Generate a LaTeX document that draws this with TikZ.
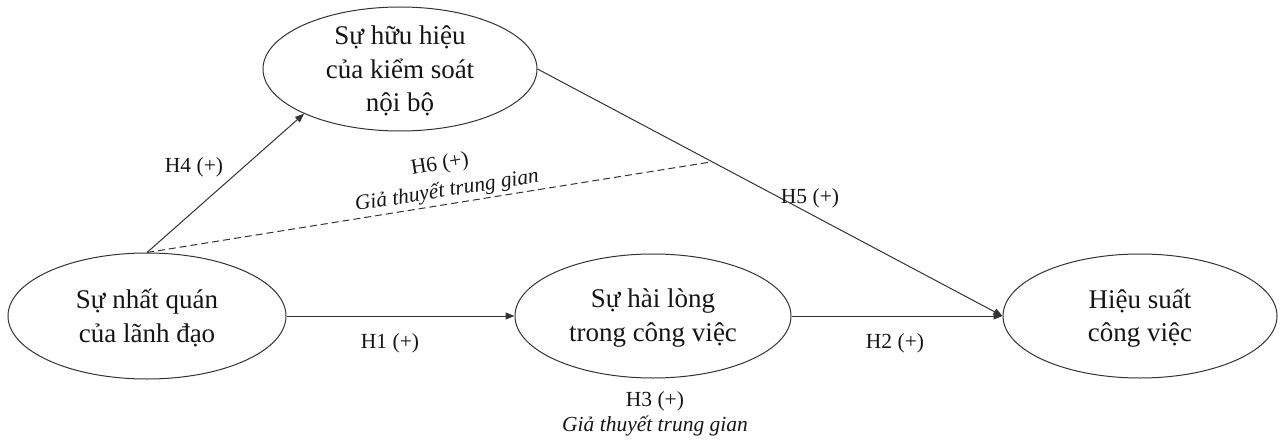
\documentclass[tikz,border=0pt]{standalone}
\usepackage{fontspec}
\setmainfont{Liberation Serif}
\usetikzlibrary{shapes.geometric,arrows.meta}
\definecolor{linec}{HTML}{333333}
\definecolor{textc}{HTML}{151515}
\tikzset{
  ell/.style={draw=linec, line width=1pt, ellipse, inner sep=0pt},
  etext/.style={text=textc, align=center, font=\fontsize{27}{33.5}\selectfont, inner sep=0pt},
  lbl/.style={text=textc, align=center, font=\fontsize{21.5}{25}\selectfont, inner sep=0pt},
  conn/.style={draw=linec, line width=1pt},
  arr/.style={conn, -{Triangle[length=9pt,width=7pt]}},
  dsh/.style={conn, dash pattern=on 7pt off 4pt}
}
\begin{document}
\begin{tikzpicture}[x=1pt,y=-1pt]
\useasboundingbox (0,0) rectangle (1281,441);
% ellipses
\node[ell, minimum width=278pt, minimum height=126pt] (A) at (147,316) {};
\node[ell, minimum width=274pt, minimum height=124pt] (B) at (400,69) {};
\node[ell, minimum width=276pt, minimum height=124pt] (C) at (653,316) {};
\node[ell, minimum width=274pt, minimum height=124pt] (D) at (1140,316) {};
% texts
\node[etext] (tA) at (147,318) {Sự nhất quán\\của lãnh đạo};
\node[etext] (tB) at (400,71) {Sự hữu hiệu\\của kiểm soát\\nội bộ};
\node[etext] (tC) at (653,318) {Sự hài lòng\\trong công việc};
\node[etext] (tD) at (1140,318) {Hiệu suất\\công việc};
% connectors
\draw[arr] (A.east) -- (C.west);
\draw[arr] (C.east) -- (D.west);
\draw[arr] (A.north) -- (B.205);
\draw[arr] (B.east) -- coordinate[pos=0.3755] (m) (D.west);
\draw[dsh] (A.north) -- (m);
% labels
\node[lbl] (h1) at (390,343) {H1 (+)};
\node[lbl] (h2) at (895,343) {H2 (+)};
\node[lbl] (h4) at (194,167) {H4 (+)};
\node[lbl] (h5) at (810,198) {H5 (+)};
\node[lbl] (h3) at (655,414) {H3 (+)\\\textit{Giả thuyết trung gian}};
\node[lbl, rotate=9] (h6) at (440,165) {H6 (+)};
\node[lbl, rotate=9] (h6b) at (447,191) {\textit{Giả thuyết trung gian}};
\end{tikzpicture}
\end{document}
